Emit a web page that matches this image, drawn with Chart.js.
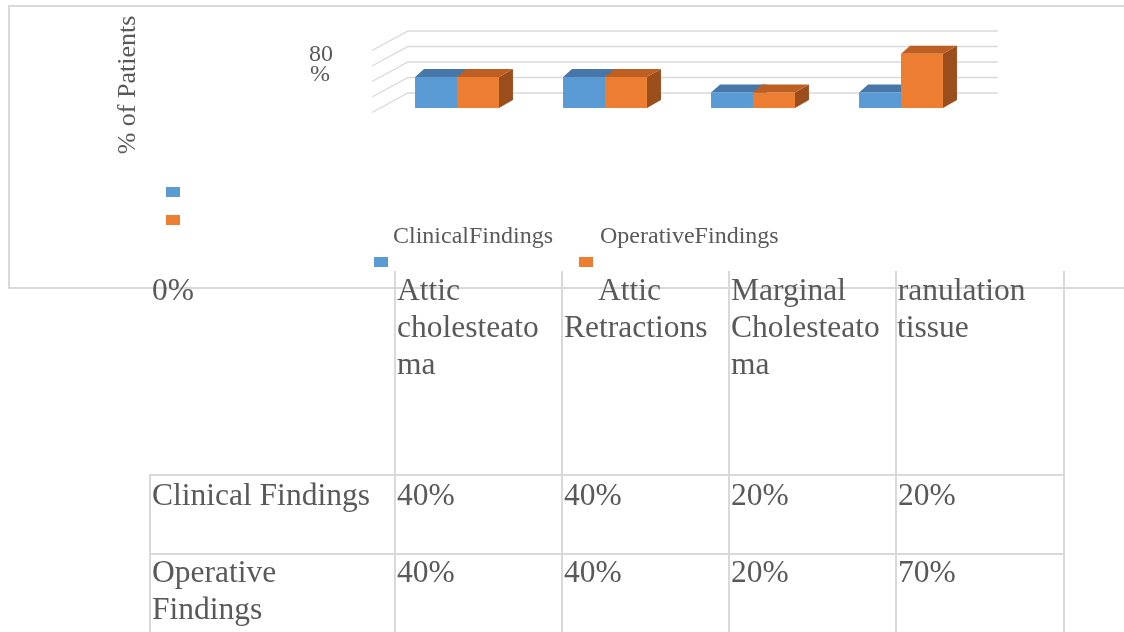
<!DOCTYPE html>
<html>
<head>
<meta charset="utf-8">
<title>% of Patients – Clinical vs Operative Findings</title>
<script src="https://cdn.jsdelivr.net/npm/chart.js@4"></script>
<style>
  html, body { margin: 0; padding: 0; background: #fff; width: 1124px; height: 632px; overflow: hidden; }
  body { font-family: "Liberation Serif", "Times New Roman", serif; color: #595959; }
  #stage { position: relative; width: 1124px; height: 632px; }
  .line { position: absolute; background: #D9D9D9; }
  #chart { position: absolute; left: 0; top: 0; }
  .txt { position: absolute; white-space: nowrap; }
  .cell { position: absolute; font-size: 31.5px; line-height: 37px; white-space: nowrap; }
  .sw { position: absolute; width: 14px; height: 10px; }
</style>
</head>
<body>
<div id="stage">
  <canvas id="chart" width="1124" height="632"></canvas>
</div>
<script>
// ---- data ----
const categories = ['Attic cholesteatoma', 'Attic Retractions', 'Marginal Cholesteatoma', 'Granulation tissue'];
const categoryLines = [['Attic', 'cholesteato', 'ma'], ['Attic', 'Retractions'], ['Marginal', 'Cholesteato', 'ma'], ['Granulation', 'tissue']];
const clinicalFindings = [40, 40, 20, 20];
const operativeFindings = [40, 40, 20, 70];
const seriesNames = ['Clinical Findings', 'Operative Findings'];
const legendNames = ['ClinicalFindings', 'OperativeFindings'];
const yTicks = [0, 20, 40, 60, 80];
const axisTitle = '% of Patients';
const axisLabel = ['80', '%'];
const baseLabel = '0%';

// ---- palette ----
const faces = [
  { front: '#5B9BD5', top: '#4677A8', side: '#3E6A96' },
  { front: '#ED7D31', top: '#BD5F22', side: '#9C4D1C' }
];

const stage = document.getElementById('stage');
function add(el) { stage.appendChild(el); return el; }
function line(x, y, w, h) {
  const d = document.createElement('div');
  d.className = 'line';
  Object.assign(d.style, { left: x + 'px', top: y + 'px', width: w + 'px', height: h + 'px', zIndex: 0 });
  return add(d);
}
function text(str, x, y, size, lh, extra) {
  const d = document.createElement('div');
  d.className = 'txt';
  d.textContent = str;
  Object.assign(d.style, { left: x + 'px', top: y + 'px', fontSize: size + 'px', lineHeight: lh + 'px', zIndex: 2 }, extra || {});
  return add(d);
}
function swatch(x, y, color) {
  const d = document.createElement('div');
  d.className = 'sw';
  Object.assign(d.style, { left: x + 'px', top: y + 'px', background: color, zIndex: 2 });
  return add(d);
}

// chart frame (open on the right)
line(8, 5, 1116, 2);
line(8, 5, 2, 284);
line(8, 287, 1116, 2);

// axis title and the lone tick label
text(axisTitle, 127, 85, 26, 30, { transform: 'translate(-50%, -50%) rotate(-90deg)' });
text(axisLabel[0], 309, 41, 24, 24);
text(axisLabel[1], 310, 61, 24, 24);

// legend swatches and names
swatch(166, 187, faces[0].front);
swatch(166, 215, faces[1].front);
text(legendNames[0], 393, 223, 24, 24);
text(legendNames[1], 600, 223, 24, 24);
swatch(374, 257, faces[0].front);
swatch(579, 257, faces[1].front);

// ---- data table ----
const colLines = [395, 562, 729, 896, 1064];
const rowLines = [475, 554];
colLines.forEach(x => line(x - 1, 271, 2, 361));
line(149, 475, 2, 157);
rowLines.forEach(y => line(149, y - 1, 916, 2));

const headTop = 271;
const cellTop = [476, 553];
text(baseLabel, 152, headTop, 31.5, 37);

categoryLines.forEach((lines, i) => {
  const cell = document.createElement('div');
  cell.className = 'cell';
  cell.style.zIndex = 2;
  cell.style.top = headTop + 'px';
  if (i === 3) {
    cell.style.left = (colLines[i] + 1) + 'px';
    cell.style.width = '165px';
    cell.style.overflow = 'hidden';
  } else {
    cell.style.left = (colLines[i] + 2) + 'px';
  }
  lines.forEach((ln, k) => {
    const row = document.createElement('div');
    row.textContent = ln;
    if (i === 3 && k === 0) row.style.marginLeft = '-22px';
    if (i === 1 && k === 0) row.style.marginLeft = '34px';
    cell.appendChild(row);
  });
  add(cell);
});

[clinicalFindings, operativeFindings].forEach((vals, r) => {
  const label = document.createElement('div');
  label.className = 'cell';
  label.style.zIndex = 2;
  label.style.left = '152px';
  label.style.top = cellTop[r] + 'px';
  const words = seriesNames[r].split(' ');
  if (r === 0) label.textContent = seriesNames[r];
  else words.forEach(w => { const d = document.createElement('div'); d.textContent = w; label.appendChild(d); });
  add(label);
  vals.forEach((v, i) => {
    const c = document.createElement('div');
    c.className = 'cell';
    c.style.zIndex = 2;
    c.style.left = (colLines[i] + 2) + 'px';
    c.style.top = cellTop[r] + 'px';
    c.textContent = v + '%';
    add(c);
  });
});

// ---- 3D look: back wall gridlines, then tops and sides behind the front faces ----
const depth = { dx: 14, dy: -8, dxLeft: 9, wallX: 25, wallY: -15, floorX: -11, floorY: 19.5 };

const wall3d = {
  id: 'wall3d',
  beforeDatasetsDraw(chart) {
    const { ctx, chartArea, scales } = chart;
    const y = scales.y;
    ctx.save();
    ctx.strokeStyle = '#D9D9D9';
    ctx.lineWidth = 1.3;
    yTicks.forEach(t => {
      const py = y.getPixelForValue(t) + depth.wallY;
      ctx.beginPath();
      ctx.moveTo(chartArea.left + depth.floorX, py + depth.floorY);
      ctx.lineTo(chartArea.left + depth.wallX, py);
      ctx.lineTo(chartArea.right + depth.wallX - 2, py);
      ctx.stroke();
    });
    chart.data.datasets.forEach((ds, di) => {
      const meta = chart.getDatasetMeta(di);
      const f = faces[di];
      meta.data.forEach(bar => {
        const p = bar.getProps(['x', 'y', 'base', 'width'], true);
        const x0 = p.x - p.width / 2, x1 = p.x + p.width / 2;
        const yt = p.y, yb = p.base;
        ctx.fillStyle = f.side;
        ctx.beginPath();
        ctx.moveTo(x1, yt);
        ctx.lineTo(x1 + depth.dx, yt + depth.dy);
        ctx.lineTo(x1 + depth.dx, yb + depth.dy);
        ctx.lineTo(x1, yb);
        ctx.closePath();
        ctx.fill();
        ctx.fillStyle = f.top;
        ctx.beginPath();
        ctx.moveTo(x0, yt);
        ctx.lineTo(x0 + depth.dxLeft, yt + depth.dy);
        ctx.lineTo(x1 + depth.dx, yt + depth.dy);
        ctx.lineTo(x1, yt);
        ctx.closePath();
        ctx.fill();
      });
    });
    ctx.restore();
  }
};

new Chart(document.getElementById('chart'), {
  type: 'bar',
  data: {
    labels: categories,
    datasets: [
      { label: seriesNames[0], data: clinicalFindings, backgroundColor: faces[0].front },
      { label: seriesNames[1], data: operativeFindings, backgroundColor: faces[1].front }
    ]
  },
  options: {
    responsive: false,
    animation: false,
    events: [],
    layout: { padding: { left: 383, right: 149, top: 46, bottom: 524 } },
    datasets: { bar: { categoryPercentage: 0.567, barPercentage: 1, borderWidth: 0, inflateAmount: 0 } },
    plugins: { legend: { display: false }, tooltip: { enabled: false } },
    scales: {
      x: { display: false },
      y: { display: false, min: 0, max: 80 }
    }
  },
  plugins: [wall3d]
});
document.getElementById('chart').style.zIndex = 1;
</script>
</body>
</html>
